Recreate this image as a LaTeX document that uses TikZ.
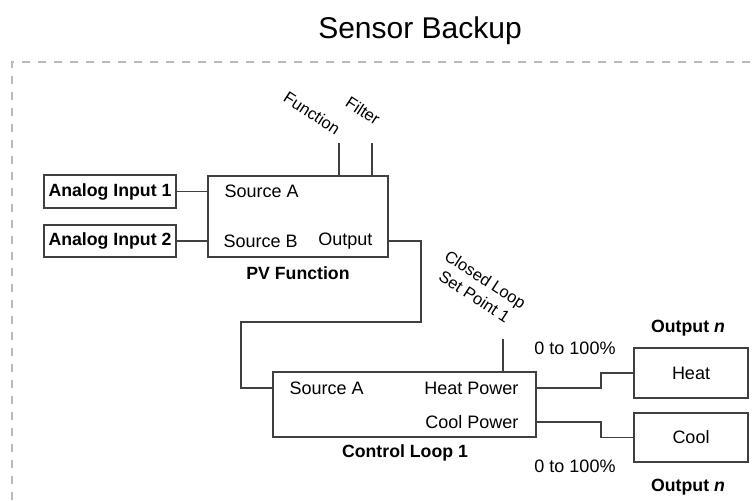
\documentclass[tikz,border=0pt]{standalone}
\usepackage{fontspec}
\setmainfont{Liberation Sans}
\begin{document}
\begin{tikzpicture}[x=1pt,y=-1pt,
  line width=1.2pt,
  wire/.style={draw=black!75, line width=1.2pt},
  blk/.style={draw=black!75, line width=1.2pt, rectangle, inner sep=0pt},
  txt/.style={font=\fontsize{18}{20}\selectfont, inner sep=0pt},
  btxt/.style={font=\fontsize{17.7}{20}\selectfont\bfseries, inner sep=0pt},
  rtxt/.style={font=\fontsize{16.5}{20}\selectfont, inner sep=0pt, rotate=-33, align=center},
  frame/.style={draw={rgb,255:red,192;green,186;blue,175}, line width=2.4pt, dash pattern=on 8pt off 8pt}
]
\useasboundingbox (0,0) rectangle (754,500);
% title
\node[font=\fontsize{30}{34}\selectfont, inner sep=0pt] (title) at (420,31) {Sensor Backup};
% frame
\coordinate (fbl) at (12,500);
\coordinate (ftl) at (12,62);
\coordinate (ftr) at (754,62);
\draw[frame] (fbl) -- (ftl) -- (ftr);
% blocks
\node[blk, minimum width=132pt, minimum height=33pt, btxt] (ai1) at (110,191.5) {Analog Input 1};
\node[blk, minimum width=132pt, minimum height=32pt, btxt] (ai2) at (110,241) {Analog Input 2};
\node[blk, minimum width=180pt, minimum height=81pt] (pv) at (298,216.5) {};
\node[blk, minimum width=263pt, minimum height=65pt] (cl) at (404.5,404.5) {};
\node[blk, minimum width=114pt, minimum height=50pt, txt] (heat) at (691,373) {Heat};
\node[blk, minimum width=114pt, minimum height=49pt, txt] (cool) at (691,437.5) {Cool};
% inner texts
\node[txt, anchor=west] (pvsa) at (224,191) {Source A};
\node[txt, anchor=west] (pvsb) at (223,241) {Source B};
\node[txt, anchor=east] (pvout) at (373,241) {Output};
\node[btxt] (pvlbl) at (298,273) {PV Function};
\node[txt, anchor=west] (clsa) at (289,388) {Source A};
\node[txt, anchor=east] (clhp) at (519,388) {Heat Power};
\node[txt, anchor=east] (clcp) at (519,422) {Cool Power};
\node[btxt] (cllbl) at (405,453) {Control Loop 1};
\node[btxt] (on1) at (688,328) {Output \textit{n}};
\node[btxt] (on2) at (688,487) {Output \textit{n}};
\node[txt] (p1) at (575,348) {0 to 100\%};
\node[txt] (p2) at (575,466) {0 to 100\%};
% rotated labels
\node[rtxt] (fn) at (312,113) {Function};
\node[rtxt] (flt) at (363,111) {Filter};
\node[rtxt] (csp) at (480,288) {Closed Loop\\Set Point 1};
% connectors
\draw[wire] (ai1.east) -- (ai1.east -| pv.west);
\draw[wire] (ai2.east) -- (ai2.east -| pv.west);
\coordinate (fnend) at (339,143);
\coordinate (fltend) at (372,143);
\draw[wire] (fnend) -- (fnend |- pv.north);
\draw[wire] (fltend) -- (fltend |- pv.north);
\coordinate (spend) at (503,339);
\draw[wire] (spend) -- (spend |- cl.north);
\draw[wire] (pv.east |- ai2.east) -- (421,241) -- (421,322) -- (241,322) -- (241,388) -- (cl.west |- clsa.west);
\draw[wire] (cl.east |- clhp.east) -- (601,388) -- (601,373) -- (heat.west);
\draw[wire] (cl.east |- clcp.east) -- (601,422) -- (601,437.5) -- (cool.west);
\end{tikzpicture}
\end{document}
